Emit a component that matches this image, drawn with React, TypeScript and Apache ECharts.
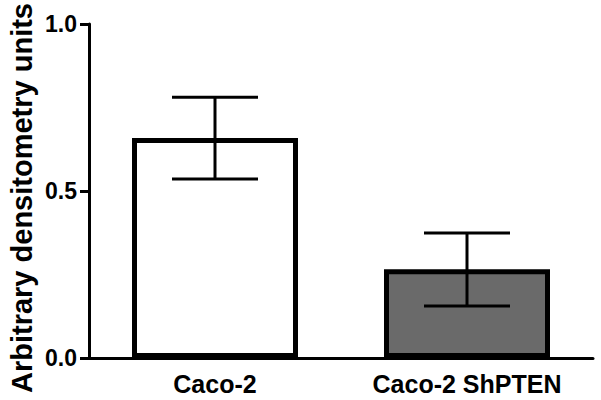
import React, { useEffect, useRef } from "react";
import * as echarts from "echarts";

const categories = ["Caco-2", "Caco-2 ShPTEN"];
const means = [0.659, 0.266];
const errLow = [0.536, 0.156];
const errHigh = [0.781, 0.374];
const barColors = ["#ffffff", "#6a6a6a"];
const yTicks = [0, 0.5, 1.0];
const yTitle = "Arbitrary densitometry units";

export default function App() {
  const ref = useRef<HTMLDivElement>(null);
  useEffect(() => {
    if (!ref.current) return;
    const chart = echarts.init(ref.current, null, { renderer: "svg" });
    const font = "'Liberation Sans', Arial, sans-serif";
    chart.setOption({
      animation: false,
      backgroundColor: "#ffffff",
      grid: { left: 89, right: 8, top: 24, bottom: 42, containLabel: false, outerBoundsMode: "none" },
      graphic: [
        {
          type: "text",
          x: 22,
          y: 198,
          rotation: Math.PI / 2,
          style: {
            text: yTitle,
            fill: "#000",
            font: "bold 29px 'Liberation Sans', Arial, sans-serif",
            align: "center",
            verticalAlign: "middle",
          },
        },
      ],
      xAxis: {
        type: "category",
        data: categories,
        axisLine: { lineStyle: { color: "#000", width: 3 } },
        axisTick: { alignWithLabel: true, length: 9, lineStyle: { color: "#000", width: 3 } },
        axisLabel: { color: "#000", fontFamily: font, fontWeight: "bold", fontSize: 25, margin: 13 },
      },
      yAxis: {
        type: "value",
        min: yTicks[0],
        max: yTicks[yTicks.length - 1],
        interval: 0.5,
        axisLine: { show: true, lineStyle: { color: "#000", width: 3 } },
        axisTick: { show: true, length: 9, lineStyle: { color: "#000", width: 3 } },
        axisLabel: {
          color: "#000",
          fontFamily: font,
          fontWeight: "bold",
          fontSize: 23,
          margin: 12,
          formatter: (v: number) => v.toFixed(1),
        },
        splitLine: { show: false },
      },
      series: [
        {
          type: "bar",
          data: means.map((v, i) => ({ value: v, itemStyle: { color: barColors[i] } })),
          barWidth: 166,
          itemStyle: { borderColor: "#000", borderWidth: 5 },
          z: 2,
        },
        {
          type: "custom",
          z: 3,
          data: categories.map((_, i) => [i, errLow[i], errHigh[i]]),
          renderItem: (params: any, api: any) => {
            const x = api.value(0);
            const lo = api.coord([x, api.value(1)]);
            const hi = api.coord([x, api.value(2)]);
            const half = 43;
            const style = { stroke: "#000", lineWidth: 3 };
            return {
              type: "group",
              children: [
                { type: "line", shape: { x1: hi[0], y1: hi[1], x2: lo[0], y2: lo[1] }, style },
                { type: "line", shape: { x1: hi[0] - half, y1: hi[1], x2: hi[0] + half, y2: hi[1] }, style },
                { type: "line", shape: { x1: lo[0] - half, y1: lo[1], x2: lo[0] + half, y2: lo[1] }, style },
              ],
            };
          },
        },
      ],
    });
    return () => chart.dispose();
  }, []);
  return <div ref={ref} style={{ width: 601, height: 400, position: "absolute", left: 0, top: 0 }} />;
}
